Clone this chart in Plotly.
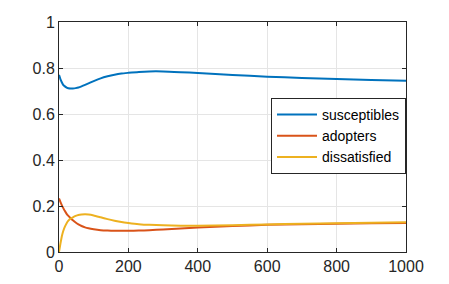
import plotly.graph_objects as go

t = [0, 4, 8, 12, 17, 22, 27, 33, 40, 48, 56, 65, 75, 85, 100, 120, 140, 160, 180, 200,
     230, 260, 300, 350, 400, 500, 600, 700, 800, 900, 1000]
susceptibles = [0.77, 0.752, 0.738, 0.727, 0.72, 0.715, 0.712, 0.711, 0.711, 0.7125, 0.715, 0.72,
                0.7265, 0.733, 0.743, 0.755, 0.764, 0.771, 0.776, 0.779, 0.783, 0.785, 0.785,
                0.782, 0.778, 0.77, 0.762, 0.757, 0.752, 0.748, 0.745]
adopters = [0.233, 0.218, 0.204, 0.192, 0.178, 0.166, 0.157, 0.148, 0.138, 0.128, 0.12, 0.113,
            0.107, 0.103, 0.099, 0.095, 0.093, 0.092, 0.092, 0.092, 0.093, 0.095, 0.098,
            0.102, 0.106, 0.113, 0.118, 0.121, 0.123, 0.125, 0.126]
dissatisfied = [0.0, 0.035, 0.067, 0.09, 0.11, 0.125, 0.136, 0.145, 0.151, 0.157, 0.161, 0.163,
                0.164, 0.163, 0.159, 0.151, 0.143, 0.136, 0.13, 0.126, 0.121, 0.118, 0.116,
                0.114, 0.114, 0.116, 0.12, 0.123, 0.125, 0.127, 0.129]

names = ["susceptibles", "adopters", "dissatisfied"]
colors = ["#0072BD", "#D95319", "#EDB120"]

fig = go.Figure()
for name, ys, c in zip(names, [susceptibles, adopters, dissatisfied], colors):
    fig.add_trace(go.Scatter(x=t, y=ys, mode="lines", name=name,
                             line=dict(color=c, width=2, shape="spline", smoothing=0.5)))

axis_common = dict(showgrid=True, gridcolor="#e5e5e5", gridwidth=1,
                   showline=True, linecolor="#262626", linewidth=1, mirror="ticks",
                   ticks="inside", ticklen=4, tickcolor="#262626",
                   tickfont=dict(family="Liberation Sans, Arial", size=16, color="#262626"),
                   zeroline=False, automargin=False)

fig.update_xaxes(range=[0, 1000], tickvals=[0, 200, 400, 600, 800, 1000], **axis_common)
fig.update_yaxes(range=[0, 1], tickvals=[0, 0.2, 0.4, 0.6, 0.8, 1],
                 ticktext=["0", "0.2", "0.4", "0.6", "0.8", "1"], **axis_common)

fig.update_layout(
    width=449, height=284,
    margin=dict(l=59, r=43, t=22, b=32),
    paper_bgcolor="white", plot_bgcolor="white",
    font=dict(family="Liberation Sans, Arial", color="#262626"),
    legend=dict(x=1, xanchor="right", y=0.67, yanchor="top",
                bgcolor="white", bordercolor="#262626", borderwidth=1,
                font=dict(size=14, color="#000000"),
                tracegroupgap=0, itemwidth=40),
    showlegend=True,
)

fig.write_html("out.html", config={"displayModeBar": False},
               post_script="document.body.style.margin='0';document.body.style.padding='0';")
